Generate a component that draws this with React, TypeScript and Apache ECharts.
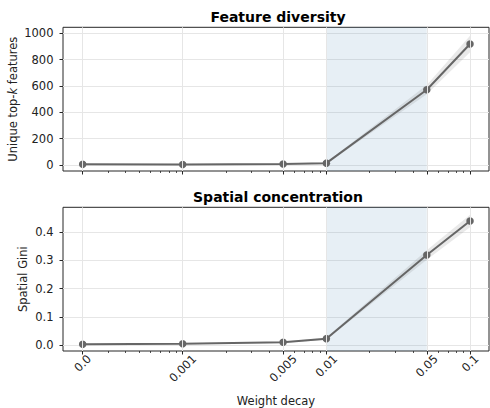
import { useEffect, useRef } from "react";
import * as echarts from "echarts";

// ---- data ----
const weightDecay = [0, 0.001, 0.005, 0.01, 0.05, 0.1];
const xTickLabels = ["0.0", "0.001", "0.005", "0.01", "0.05", "0.1"];
const featureMean = [5, 4, 8, 14, 572, 919];
const featureSpread = [3, 3, 4, 6, 35, 62];
const giniMean = [0.0025, 0.0045, 0.0095, 0.0225, 0.3195, 0.44];
const giniSpread = [0.001, 0.0015, 0.002, 0.004, 0.017, 0.022];
const featureTicks = [0, 200, 400, 600, 800, 1000];
const giniTicks = [0, 0.1, 0.2, 0.3, 0.4];
const highlightSpan = [0.01, 0.05];

// ---- symlog-like x transform ----
const ZERO_POS = -3 - 100 / 143.65;
const tx = (v: number) => (v > 0 ? Math.log10(v) : ZERO_POS);
const X_MIN = -3.833;
const X_MAX = -0.868;
const linearMinorFrac = [0.256, 0.43, 0.566, 0.68, 0.78, 0.863, 0.933];

const FONT = "DejaVu Sans";
const TICK_FS = 11.5;
const LINE_COLOR = "#666666";
const GRID_COLOR = "#e6e6e6";
const SPINE = "#262626";
const TEXT = "#222222";

export default function App() {
  const ref = useRef<HTMLDivElement>(null);
  useEffect(() => {
    if (!ref.current) return;
    const chart = echarts.init(ref.current, undefined, { renderer: "svg" });

    const majorVals = weightDecay.map(tx);
    const minorVals: number[] = [];
    linearMinorFrac.forEach((f) => minorVals.push(ZERO_POS + f * (-3 - ZERO_POS)));
    [-3, -2].forEach((d) => {
      for (let k = 2; k <= 9; k++) minorVals.push(d + Math.log10(k));
    });
    const labelOf = (v: number) => {
      let best = 0;
      majorVals.forEach((m, i) => {
        if (Math.abs(m - v) < Math.abs(majorVals[best] - v)) best = i;
      });
      const s = xTickLabels[best];
      return "{p" + Math.max(0, s.length - 3) + "|" + s + "}";
    };
    const digitW = 0.636 * TICK_FS;
    const padFor = (n: number) => {
      const p = 0.5 * n * digitW;
      return { padding: [p, p, 0, 0], fontSize: TICK_FS, fontFamily: FONT, color: TEXT };
    };

    const gridBase = { left: 63, width: 426, height: 143.7, show: true, borderColor: SPINE, borderWidth: 1, backgroundColor: "transparent", containLabel: false, outerBoundsMode: "none" };
    const grids = [
      { ...gridBase, top: 27.3 },
      { ...gridBase, top: 207.3 },
    ];

    const xAxes: any[] = [];
    [0, 1].forEach((g) => {
      xAxes.push({
        type: "value",
        gridIndex: g,
        position: "bottom",
        min: X_MIN,
        max: X_MAX,
        axisLine: { show: false, onZero: false },
        axisTick: { show: true, customValues: majorVals, length: 3.5, lineStyle: { color: SPINE, width: 1 } },
        axisLabel: {
          show: g === 1,
          customValues: majorVals,
          formatter: (v: number) => labelOf(v),
          rotate: 45,
          align: "center",
          verticalAlign: "middle",
          margin: 12.2,
          fontSize: TICK_FS,
          fontFamily: FONT,
          color: TEXT,
          rich: { p0: padFor(0), p1: padFor(1), p2: padFor(2) },
        },
        splitLine: { show: false },
        name: g === 1 ? "Weight decay" : "",
        nameLocation: "middle",
        nameGap: 43.5,
        nameTextStyle: { fontSize: TICK_FS, fontFamily: FONT, color: TEXT },
      });
      xAxes.push({
        type: "value",
        gridIndex: g,
        position: "bottom",
        min: X_MIN,
        max: X_MAX,
        axisLine: { show: false, onZero: false },
        axisTick: { show: true, customValues: minorVals, length: 2, lineStyle: { color: SPINE, width: 0.8 } },
        axisLabel: { show: false },
        splitLine: { show: false },
      });
    });

    const yCommon = (ticks: number[], fmt: (v: number) => string) => ({
      type: "value",
      position: "left",
      axisLine: { show: false, onZero: false },
      axisTick: { show: true, customValues: ticks, length: 3.5, lineStyle: { color: SPINE, width: 1 } },
      axisLabel: { customValues: ticks, formatter: fmt, fontSize: TICK_FS, fontFamily: FONT, color: TEXT, margin: 9.5 },
      splitLine: { show: true, lineStyle: { color: GRID_COLOR, width: 1 } },
    });

    const yAxes: any[] = [
      { ...yCommon(featureTicks, (v) => String(Math.round(v))), gridIndex: 0, min: -45.6, max: 1046 },
      { ...yCommon(giniTicks, (v) => v.toFixed(1)), gridIndex: 1, min: -0.0213, max: 0.4888 },
    ];

    const series: any[] = [];
    const panels = [
      { mean: featureMean, spread: featureSpread },
      { mean: giniMean, spread: giniSpread },
    ];
    panels.forEach((p, g) => {
      const xi = g * 2;
      const xs = weightDecay.map(tx);
      const lo = p.mean.map((m, i) => m - p.spread[i]);
      const hi = p.mean.map((m, i) => m + p.spread[i]);
      const pts = weightDecay.map((w, i) => [tx(w), p.mean[i]]);
      series.push({
        type: "line",
        xAxisIndex: xi,
        yAxisIndex: g,
        data: pts,
        symbol: "none",
        lineStyle: { opacity: 0 },
        silent: true,
        z: 1,
        markArea: {
          silent: true,
          itemStyle: { color: "rgba(70,130,180,0.13)" },
          data: [[{ xAxis: tx(highlightSpan[0]) }, { xAxis: tx(highlightSpan[1]) }]],
        },
        markLine: {
          silent: true,
          symbol: ["none", "none"],
          label: { show: false },
          lineStyle: { color: GRID_COLOR, width: 1, type: "solid" },
          data: majorVals.map((v) => ({ xAxis: v })),
        },
      });
      series.push({
        type: "custom",
        xAxisIndex: xi,
        yAxisIndex: g,
        silent: true,
        z: 2,
        data: xs.map((x, i) => [x, lo[i], hi[i]]),
        encode: { x: 0, y: [1, 2] },
        renderItem: (params: any, api: any) => {
          if (params.dataIndex !== 0) return null;
          const upper = xs.map((x, i) => api.coord([x, hi[i]]));
          const lower = xs.map((x, i) => api.coord([x, lo[i]])).reverse();
          return {
            type: "polygon",
            shape: { points: upper.concat(lower) },
            style: { fill: "rgba(110,110,110,0.15)" },
          };
        },
      });
      series.push({
        type: "line",
        xAxisIndex: xi,
        yAxisIndex: g,
        data: pts,
        symbol: "circle",
        symbolSize: 7.5,
        itemStyle: { color: LINE_COLOR },
        lineStyle: { color: LINE_COLOR, width: 2 },
        z: 3,
      });
    });

    const yNameStyle = {
      fontSize: TICK_FS,
      fontFamily: FONT,
      fill: TEXT,
      align: "center",
      verticalAlign: "middle",
    };

    chart.setOption({
      animation: false,
      backgroundColor: "#ffffff",
      title: [
        { text: "Feature diversity", left: 273, top: 5, textAlign: "center", textStyle: { fontFamily: FONT, fontSize: 14, fontWeight: "bold", color: "#000" } },
        { text: "Spatial concentration", left: 273, top: 185, textAlign: "center", textStyle: { fontFamily: FONT, fontSize: 14, fontWeight: "bold", color: "#000" } },
      ],
      graphic: [
        {
          type: "text",
          x: 12.5,
          y: 99.2,
          rotation: Math.PI / 2,
          silent: true,
          style: {
            ...yNameStyle,
            text: "Unique top-{it|k} features",
            rich: { it: { fontStyle: "italic", fontSize: TICK_FS, fontFamily: FONT, fill: TEXT } },
          },
        },
        {
          type: "text",
          x: 23.3,
          y: 279.2,
          rotation: Math.PI / 2,
          silent: true,
          style: { ...yNameStyle, text: "Spatial Gini" },
        },
      ],
      grid: grids,
      xAxis: xAxes,
      yAxis: yAxes,
      series,
    });
    return () => chart.dispose();
  }, []);
  return <div ref={ref} style={{ width: 490, height: 408, position: "absolute", left: 0, top: 0 }} />;
}
